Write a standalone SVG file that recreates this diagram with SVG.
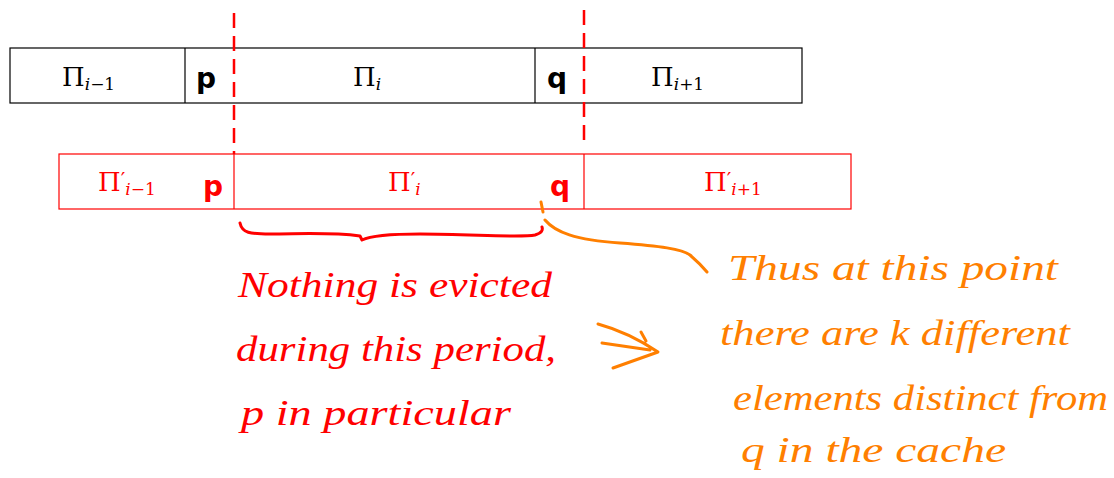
<svg xmlns="http://www.w3.org/2000/svg" width="1114" height="478" viewBox="0 0 1114 478">
<style>
.box{fill:none;stroke:#000;stroke-width:1.2}
.rbox{fill:none;stroke:#f00;stroke-width:1.2}
.dash{stroke:#f00;stroke-width:2.5;stroke-dasharray:15 8;fill:none}
.math{font-family:"DejaVu Serif","Liberation Serif",serif;font-size:26px}
.sm{font-size:17px}
.pr{font-size:20px}
.sub{font-style:italic;font-size:17px}
.hand{font-family:"Liberation Serif",serif;font-style:italic;font-size:36px}
.red{fill:#f00}
.orange{fill:#ff7f00}
.pq{font-family:"DejaVu Sans",sans-serif;font-weight:bold;font-size:28px}
.ostroke{stroke:#ff7f00;stroke-width:3;fill:none;stroke-linecap:round;stroke-linejoin:round}
.rstroke{stroke:#f00;stroke-width:3;fill:none;stroke-linecap:round;stroke-linejoin:round}
</style>
<rect width="1114" height="478" fill="#fff"/>
<g id="row-top">
<rect class="box" x="10" y="48" width="792" height="55"/>
<line class="box" x1="185" y1="48" x2="185" y2="103"/>
<line class="box" x1="535" y1="48" x2="535" y2="103"/>
<text class="math" x="62" y="86">Π<tspan class="sub" dy="4">i</tspan><tspan class="sm">−1</tspan></text>
<text class="pq" x="196" y="88">p</text>
<text class="math" x="353" y="86">Π<tspan class="sub" dy="4">i</tspan></text>
<text class="pq" x="547" y="88">q</text>
<text class="math" x="651" y="86">Π<tspan class="sub" dy="4">i</tspan><tspan class="sm">+1</tspan></text>
</g>
<g id="row-bottom">
<rect class="rbox" x="59" y="154" width="792" height="55"/>
<line class="rbox" x1="234" y1="154" x2="234" y2="209"/>
<line class="rbox" x1="584" y1="154" x2="584" y2="209"/>
<text class="math red" x="98" y="191">Π<tspan class="pr" dy="-4">′</tspan><tspan class="sub" dy="8">i</tspan><tspan class="sm">−1</tspan></text>
<text class="pq red" x="203" y="196" font-size="32px">p</text>
<text class="math red" x="388" y="191">Π<tspan class="pr" dy="-4">′</tspan><tspan class="sub" dy="8">i</tspan></text>
<text class="pq red" x="550" y="196" font-size="32px">q</text>
<text class="math red" x="704" y="191">Π<tspan class="pr" dy="-4">′</tspan><tspan class="sub" dy="8">i</tspan><tspan class="sm">+1</tspan></text>
</g>
<g id="connectors">
<line class="dash" x1="234" y1="13" x2="234" y2="154"/>
<line class="dash" x1="584" y1="10" x2="584" y2="146"/>
<path class="rstroke" d="M240,223 C242,233 250,234 270,234 C300,234 330,232 360,236 L362,240 C370,236 390,234 420,234 C470,234 520,238 535,235 C542,233 543,230 542,227"/>
<path class="ostroke" d="M541,202 L543,212" stroke-width="4"/>
<path class="ostroke" d="M545,220 C555,232 575,240 620,243 C660,246 682,249 690,255 C697,261 702,266 707,272"/>
<path class="ostroke" d="M598,324 C620,330 640,340 658,352 L613,368 M602,343 L650,350 M641,332 L646,341"/>
</g>
<g id="note-red">
<text class="hand red" x="238" y="297" textLength="314" lengthAdjust="spacingAndGlyphs">Nothing is evicted</text>
<text class="hand red" x="236" y="361" textLength="320" lengthAdjust="spacingAndGlyphs">during this period,</text>
<text class="hand red" x="241" y="425" textLength="270" lengthAdjust="spacingAndGlyphs">p in particular</text>
</g>
<g id="note-orange">
<text class="hand orange" x="728" y="280" textLength="330" lengthAdjust="spacingAndGlyphs">Thus at this point</text>
<text class="hand orange" x="720" y="345" textLength="350" lengthAdjust="spacingAndGlyphs">there are k different</text>
<text class="hand orange" x="733" y="410" textLength="375" lengthAdjust="spacingAndGlyphs">elements distinct from</text>
<text class="hand orange" x="741" y="462" textLength="265" lengthAdjust="spacingAndGlyphs">q in the cache</text>
</g>
</svg>
